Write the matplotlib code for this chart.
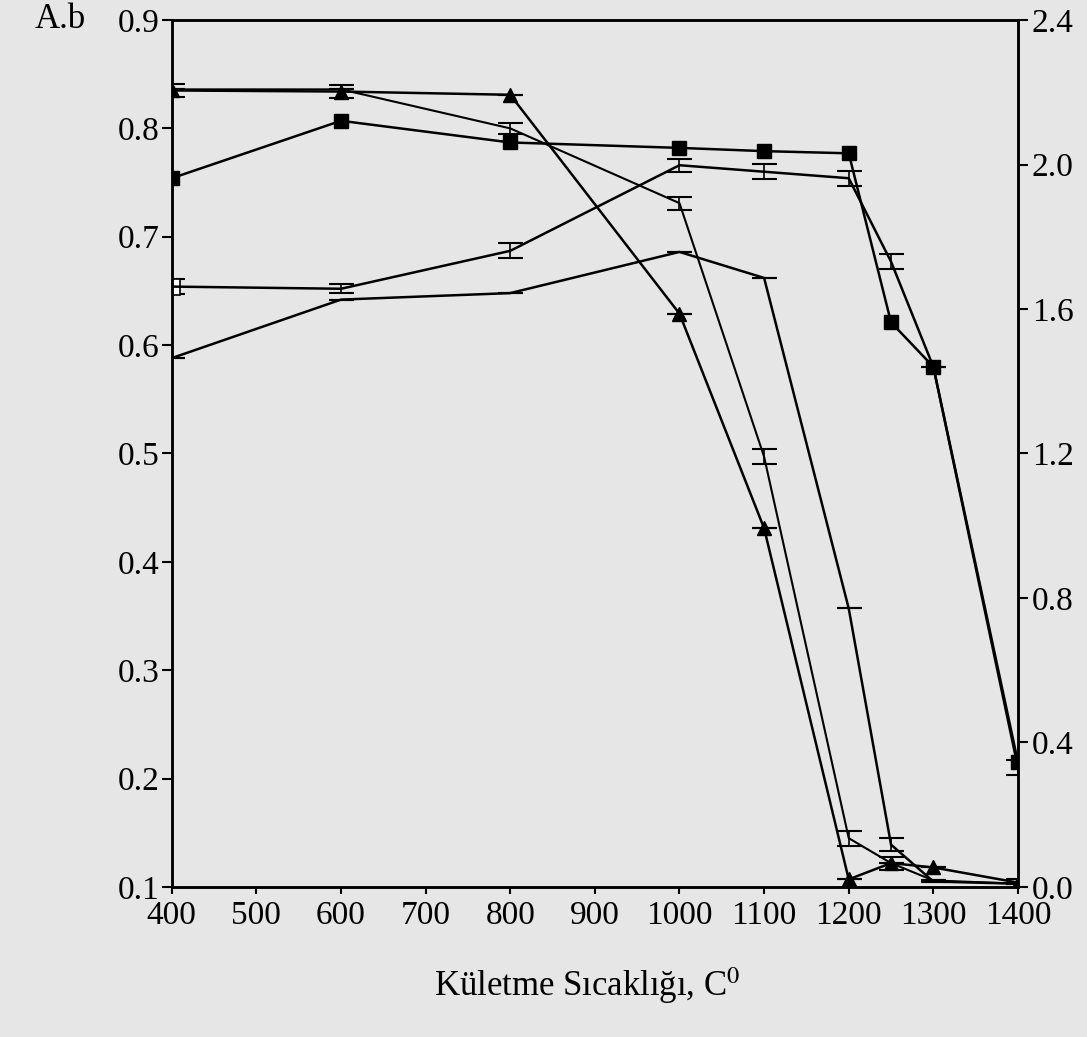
import matplotlib
matplotlib.use("Agg")
import matplotlib.pyplot as plt
import numpy as np

plt.rcParams["font.family"] = ["Liberation Serif", "DejaVu Serif"]
plt.rcParams["mathtext.fontset"] = "stix"

# sintering temperature (x)
temps_a = [400, 600, 800, 1000, 1100, 1200, 1250, 1300, 1400]

# filled triangles
tri_vals = [0.835, 0.834, 0.831, 0.629, 0.431, 0.107, 0.122, 0.118, 0.104]
tri_err = [0.006, 0.006, 0.0, 0.0, 0.0, 0.0, 0.0, 0.0, 0.0]

# filled squares
sq_vals = [0.754, 0.807, 0.787, 0.782, 0.779, 0.777, 0.621, 0.580, 0.215]

# open squares (with error bars)
open_vals = [0.654, 0.652, 0.687, 0.766, 0.760, 0.754, 0.677, 0.580, 0.210]
open_err = [0.007, 0.004, 0.007, 0.006, 0.007, 0.007, 0.007, 0.0, 0.007]

# thin line with error bars
thin_vals = [0.836, 0.836, 0.800, 0.731, 0.497, 0.145, 0.122, 0.106, 0.103]
thin_err = [0.0, 0.0, 0.005, 0.006, 0.007, 0.007, 0.006, 0.0, 0.004]

# plain line
plain_vals = [0.588, 0.642, 0.648, 0.686, 0.662, 0.357, 0.139, 0.105, 0.103]
plain_err = [0.0, 0.0, 0.0, 0.0, 0.0, 0.0, 0.006, 0.0, 0.0]

xticks = list(range(400, 1401, 100))
left_ticks = [0.1, 0.2, 0.3, 0.4, 0.5, 0.6, 0.7, 0.8, 0.9]
right_ticks = [0.0, 0.4, 0.8, 1.2, 1.6, 2.0, 2.4]

bg = "#e6e6e6"
fig = plt.figure(figsize=(10.87, 10.37), dpi=100, facecolor=bg)
ax = fig.add_axes([0.158, 0.1447, 0.7785, 0.836])
ax.set_facecolor(bg)

lw = 1.8
ax.errorbar(temps_a, plain_vals, yerr=plain_err, color="black", lw=lw,
            capsize=9, capthick=1.5, elinewidth=1.2)
ax.errorbar(temps_a, thin_vals, yerr=thin_err, color="black", lw=1.5,
            capsize=9, capthick=1.5, elinewidth=1.2)
ax.errorbar(temps_a, open_vals, yerr=open_err, color="black", lw=lw,
            capsize=9, capthick=1.5, elinewidth=1.2)
ax.plot(temps_a[:1], open_vals[:1], marker="s", ms=11, mfc="white",
        mec="black", mew=1.2, ls="none")
ax.errorbar(temps_a, tri_vals, yerr=tri_err, color="black", lw=lw,
            marker="^", ms=10, capsize=9, capthick=1.5, elinewidth=1.2)
ax.plot(temps_a, sq_vals, color="black", lw=lw, marker="s", ms=10)

ax.set_xlim(400, 1400)
ax.set_ylim(0.1, 0.9)
ax.set_xticks(xticks)
ax.set_yticks(left_ticks)
ax.set_yticklabels([f"{v:.1f}" for v in left_ticks])
ax.tick_params(axis="y", direction="out", labelsize=24, width=1.5,
               length=7, pad=2)
ax.tick_params(axis="x", direction="out", labelsize=24, width=1.5,
               length=5, pad=5)

ax2 = ax.twinx()
ax2.set_ylim(0.0, 2.4)
ax2.set_yticks(right_ticks)
ax2.set_yticklabels([f"{v:.1f}" for v in right_ticks])
ax2.tick_params(axis="y", direction="out", labelsize=24, width=1.5,
                length=7, pad=3)

for a in (ax, ax2):
    for s in a.spines.values():
        s.set_linewidth(1.8)

fig.text(0.032, 0.981, "A.b", fontsize=25, va="center", ha="left")
fig.text(0.54, 0.05, "Kületme Sıcaklığı, C$^0$", fontsize=25,
         ha="center", va="center")

fig.savefig("out.png", dpi=100, facecolor=bg)
